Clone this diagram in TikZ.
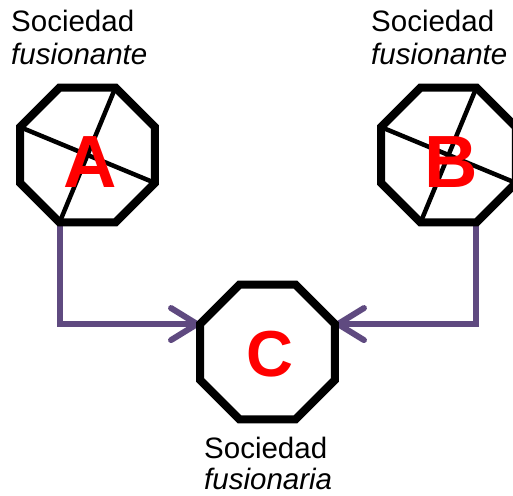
\documentclass[tikz,border=0pt]{standalone}
\usepackage{fontspec}
\setmainfont{Liberation Sans}
\usetikzlibrary{shapes.geometric,arrows.meta,backgrounds}
\definecolor{conncol}{RGB}{95,74,128}
\definecolor{lettercol}{RGB}{255,0,0}
\tikzset{
  oct/.style={draw=black, fill=white, regular polygon, regular polygon sides=8,
    minimum size=146pt, inner sep=0pt, outer sep=0pt, line width=8pt, line join=miter},
  diag/.style={draw=black, line width=4.5pt},
  letter/.style={text=lettercol, font=\fontsize{74}{74}\selectfont\bfseries, inner sep=0pt},
  lbl/.style={font=\fontsize{29.5}{32}\selectfont, inner sep=0pt, anchor=base west},
  conn/.style={draw=conncol, line width=6pt,
    -{Straight Barb[length=26pt,width=32pt,line cap=round,line join=round]}}
}
\begin{document}
\begin{tikzpicture}[x=1pt,y=-1pt]
\useasboundingbox (0,0) rectangle (513,495);
\node[oct] (A) at (87.5,155) {};
\node[oct] (B) at (448.5,155) {};
\node[oct] (C) at (267.5,352) {};
\draw[diag] (A.corner 1) -- (A.corner 5);
\draw[diag] (A.corner 3) -- (A.corner 7);
\draw[diag] (B.corner 1) -- (B.corner 5);
\draw[diag] (B.corner 3) -- (B.corner 7);
\node[letter] (LA) at (90,162) {A};
\node[letter] (LB) at (451.5,162) {B};
\node[letter, font=\fontsize{65}{65}\selectfont\bfseries] (LC) at (270,354.5) {C};
\begin{pgfonlayer}{background}
\draw[conn] (A.corner 5) |- (C.corner 3);
\draw[conn] (B.corner 6) |- (C.corner 8);
\end{pgfonlayer}
\node[lbl] (tA1) at (11,32) {Sociedad};
\node[lbl] (tA2) at (11,64) {\itshape fusionante};
\node[lbl] (tB1) at (371,32) {Sociedad};
\node[lbl] (tB2) at (371,64) {\itshape fusionante};
\node[lbl] (tC1) at (204,458) {Sociedad};
\node[lbl] (tC2) at (204,489) {\itshape fusionaria};
\end{tikzpicture}
\end{document}
